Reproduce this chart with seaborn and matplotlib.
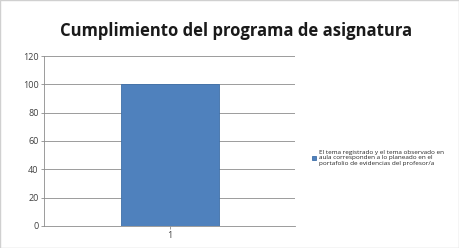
import matplotlib
matplotlib.use("Agg")
import pandas as pd
import seaborn as sns
import matplotlib.pyplot as plt

categories = ["1"]
values = [100]
series_name = ("El tema registrado y el tema observado en\n"
               "aula corresponden a lo planeado en el\n"
               "portafolio de evidencias del profesor/a")
yticks = [0, 20, 40, 60, 80, 100, 120]

df = pd.DataFrame(dict(cat=categories, val=values, s=series_name))

sns.set_theme(style="white")
plt.rcParams['font.family'] = ['Open Sans', 'DejaVu Sans']

fig = plt.figure(figsize=(4.59, 2.48), dpi=100)
ax = fig.add_axes([0.096, 0.089, 0.547, 0.685])

sns.barplot(data=df, x="cat", y="val", hue="s", color="#4F81BD",
            palette=["#4F81BD"], width=0.39, saturation=1, ax=ax,
            edgecolor="#3f6fa8", linewidth=0.6)

ax.set_xlim(-0.5, 0.5)
ax.set_ylim(0, 120)
ax.set_yticks(yticks)
ax.yaxis.grid(True, color="#8c8c8c", lw=0.6)
ax.set_axisbelow(True)
ax.set_xlabel("")
ax.set_ylabel("")
for sp in ["top", "right"]:
    ax.spines[sp].set_visible(False)
for sp in ["left", "bottom"]:
    ax.spines[sp].set_color("#8c8c8c")
    ax.spines[sp].set_linewidth(0.6)
ax.tick_params(axis="both", labelsize=6.5, colors="#8c8c8c", length=2,
               width=0.6, left=True, bottom=True, pad=2)
for t in ax.get_xticklabels() + ax.get_yticklabels():
    t.set_color("#404040")

ax.legend(loc="center left", bbox_to_anchor=(1.045, 0.40), frameon=False,
          fontsize=4.6, handlelength=0.6, handleheight=0.6, handletextpad=0.4,
          labelspacing=0.2)

fig.text(0.515, 0.875, "Cumplimiento del programa de asignatura",
         ha="center", va="center", fontsize=12, fontweight="bold",
         color="#1a1a1a")

fig.patches.append(plt.Rectangle((0, 0), 1, 1, transform=fig.transFigure,
                                 fill=False, ec="#d0d0d0", lw=1))

plt.savefig("out.png", dpi=100)
